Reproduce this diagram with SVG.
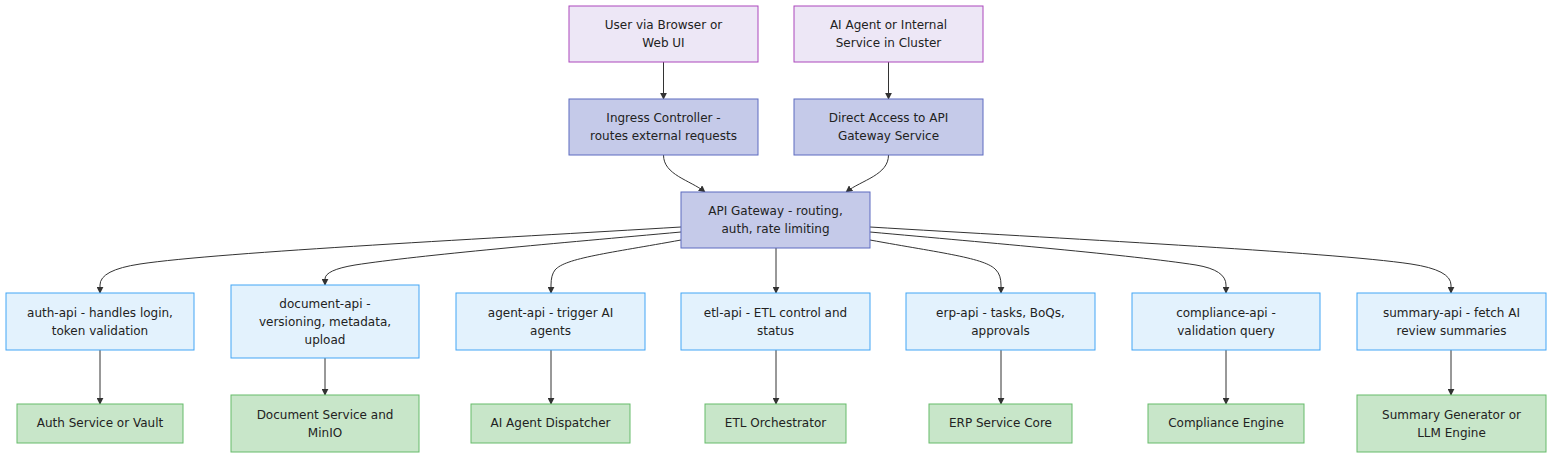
<svg xmlns="http://www.w3.org/2000/svg" width="1568" height="464" viewBox="0 0 1568 464">
<defs>
<marker id="arr" viewBox="0 0 10 10" refX="9" refY="5" markerWidth="7" markerHeight="7" markerUnits="userSpaceOnUse" orient="auto">
<path d="M0,0 L10,5 L0,10 z" fill="#333"/>
</marker>
<style>
.n rect{stroke-width:1}
.client rect{fill:#ede7f6;stroke:#ab47bc}
.gw rect{fill:#c5cae9;stroke:#5c6bc0}
.api rect{fill:#e3f2fd;stroke:#42a5f5}
.svc rect{fill:#c8e6c9;stroke:#66bb6a}
text{font-family:"DejaVu Sans",sans-serif;font-size:12px;fill:#222;text-anchor:middle}
.e path{fill:none;stroke:#333;stroke-width:1;marker-end:url(#arr)}
</style>
</defs>
<rect width="1568" height="464" fill="#ffffff"/>
<g class="e" id="connectors">
<path d="M663.5,62 L663.5,99"/>
<path d="M888.5,62 L888.5,99"/>
<path d="M663.5,155 C663.5,175 690,180 705,192"/>
<path d="M888.5,155 C888.5,175 862,180 846,192"/>
<path d="M681,227 C500,238 220,252 140,264 Q100,270 100,285 L100,293"/>
<path d="M681,232 C560,243 420,255 355,265 Q325,270 325,279 L325,285"/>
<path d="M681,240 C610,253 565,258 555,270 Q551,275 551,285 L551,293"/>
<path d="M776,248 L776,293"/>
<path d="M870,240 C941,253 986,258 996,270 Q1001,275 1001,285 L1001,293"/>
<path d="M870,232 C991,243 1131,255 1196,265 Q1226,270 1226,285 L1226,293"/>
<path d="M870,227 C1051,238 1331,252 1411,264 Q1451,270 1451,285 L1451,293"/>
<path d="M100,350 L100,404"/>
<path d="M325,358 L325,395"/>
<path d="M551,350 L551,404"/>
<path d="M776,350 L776,404"/>
<path d="M1001,350 L1001,404"/>
<path d="M1226,350 L1226,404"/>
<path d="M1451,350 L1451,395"/>
</g>
<g class="n client" id="user"><rect x="569" y="6" width="189" height="56"/><text x="663.5" y="29">User via Browser or</text><text x="663.5" y="47">Web UI</text></g>
<g class="n client" id="agent"><rect x="794" y="6" width="189" height="56"/><text x="888.5" y="29">AI Agent or Internal</text><text x="888.5" y="47">Service in Cluster</text></g>
<g class="n gw" id="ingress"><rect x="569" y="99" width="189" height="56"/><text x="663.5" y="122">Ingress Controller -</text><text x="663.5" y="140">routes external requests</text></g>
<g class="n gw" id="direct"><rect x="794" y="99" width="189" height="56"/><text x="888.5" y="122">Direct Access to API</text><text x="888.5" y="140">Gateway Service</text></g>
<g class="n gw" id="gateway"><rect x="681" y="192" width="189" height="56"/><text x="775.5" y="215">API Gateway - routing,</text><text x="775.5" y="233">auth, rate limiting</text></g>
<g class="n api" id="auth-api"><rect x="6" y="293" width="188" height="57"/><text x="100" y="317">auth-api - handles login,</text><text x="100" y="335">token validation</text></g>
<g class="n api" id="document-api"><rect x="231" y="285" width="188" height="73"/><text x="325" y="308">document-api -</text><text x="325" y="326">versioning, metadata,</text><text x="325" y="344">upload</text></g>
<g class="n api" id="agent-api"><rect x="456" y="293" width="189" height="57"/><text x="550.5" y="317">agent-api - trigger AI</text><text x="550.5" y="335">agents</text></g>
<g class="n api" id="etl-api"><rect x="681" y="293" width="189" height="57"/><text x="775.5" y="317">etl-api - ETL control and</text><text x="775.5" y="335">status</text></g>
<g class="n api" id="erp-api"><rect x="906" y="293" width="189" height="57"/><text x="1000.5" y="317">erp-api - tasks, BoQs,</text><text x="1000.5" y="335">approvals</text></g>
<g class="n api" id="compliance-api"><rect x="1132" y="293" width="188" height="57"/><text x="1226" y="317">compliance-api -</text><text x="1226" y="335">validation query</text></g>
<g class="n api" id="summary-api"><rect x="1357" y="293" width="189" height="57"/><text x="1451.5" y="317">summary-api - fetch AI</text><text x="1451.5" y="335">review summaries</text></g>
<g class="n svc" id="auth-svc"><rect x="17" y="404" width="166" height="39"/><text x="100" y="427">Auth Service or Vault</text></g>
<g class="n svc" id="doc-svc"><rect x="231" y="395" width="188" height="57"/><text x="325" y="419">Document Service and</text><text x="325" y="437">MinIO</text></g>
<g class="n svc" id="agent-svc"><rect x="471" y="404" width="159" height="39"/><text x="550.5" y="427">AI Agent Dispatcher</text></g>
<g class="n svc" id="etl-svc"><rect x="705" y="404" width="141" height="39"/><text x="775.5" y="427">ETL Orchestrator</text></g>
<g class="n svc" id="erp-svc"><rect x="929" y="404" width="143" height="39"/><text x="1000.5" y="427">ERP Service Core</text></g>
<g class="n svc" id="comp-svc"><rect x="1148" y="404" width="156" height="39"/><text x="1226" y="427">Compliance Engine</text></g>
<g class="n svc" id="sum-svc"><rect x="1357" y="395" width="189" height="57"/><text x="1451.5" y="419">Summary Generator or</text><text x="1451.5" y="437">LLM Engine</text></g>
</svg>
